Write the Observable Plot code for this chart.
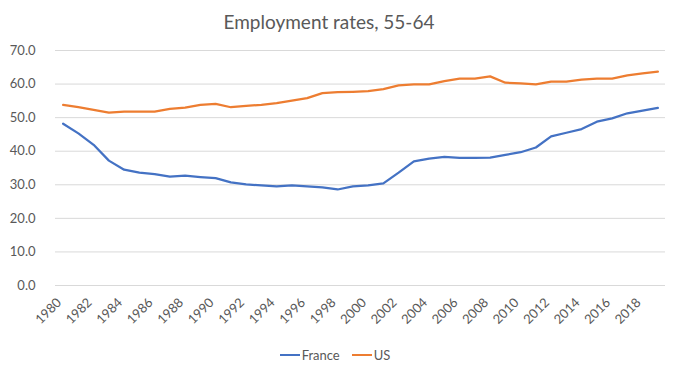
<!DOCTYPE html>
<html>
<head>
<meta charset="utf-8">
<script src="https://cdn.jsdelivr.net/npm/d3@7"></script>
<script src="https://cdn.jsdelivr.net/npm/@observablehq/plot@0.6"></script>
<style>
  html, body { margin: 0; padding: 0; background: #fff; }
  body { width: 676px; height: 371px; overflow: hidden; font-family: Lato, "Open Sans", sans-serif; color: #595959; }
  #title { height: 40px; line-height: 44px; text-align: center; font-size: 19px; color: #595959; padding-right: 18px; }
  #chart svg { display: block; }
  #legend { display: flex; justify-content: center; align-items: center; gap: 12px; font-size: 13px; margin-top: 12px; padding-right: 6px; }
  .item { display: flex; align-items: center; }
  .swatch { width: 20px; height: 0; border-top: 2px solid; margin-right: 2px; }
</style>
</head>
<body>
<div id="title">Employment rates, 55-64</div>
<div id="chart"></div>
<div id="legend"></div>
<script>
const years = d3.range(1980, 2020);
const france = [48.2, 45.3, 41.9, 37.2, 34.5, 33.6, 33.2, 32.4, 32.7, 32.3,
                32.0, 30.7, 30.1, 29.8, 29.5, 29.8, 29.5, 29.2, 28.6, 29.5,
                29.8, 30.4, 33.6, 37.0, 37.8, 38.3, 38.0, 38.0, 38.1, 38.9,
                39.7, 41.1, 44.4, 45.5, 46.6, 48.8, 49.8, 51.3, 52.1, 52.9];
const us = [53.8, 53.1, 52.3, 51.5, 51.8, 51.8, 51.8, 52.6, 53.0, 53.8,
            54.1, 53.1, 53.5, 53.8, 54.3, 55.1, 55.8, 57.3, 57.6, 57.7,
            57.9, 58.5, 59.6, 59.9, 59.9, 60.9, 61.6, 61.6, 62.3, 60.4,
            60.2, 59.9, 60.7, 60.7, 61.3, 61.6, 61.6, 62.6, 63.2, 63.7];
const seriesNames = ["France", "US"];
const seriesColors = ["#4472C4", "#ED7D31"];
const yTicks = [0, 10, 20, 30, 40, 50, 60, 70];
const xTicks = d3.range(1980, 2020, 2);

const rows = [];
years.forEach((yr, i) => {
  rows.push({year: yr, value: france[i], series: "France"});
  rows.push({year: yr, value: us[i], series: "US"});
});

const plot = Plot.plot({
  width: 676,
  height: 295,
  marginTop: 10,
  marginBottom: 50,
  marginLeft: 55,
  marginRight: 11,
  style: {fontFamily: "Lato, 'Open Sans', sans-serif", fontSize: "13px", color: "#595959", background: "#fff"},
  x: {type: "linear", domain: [1979.5, 2019.5], axis: null},
  y: {domain: [0, 70], ticks: yTicks, tickFormat: d3.format(".1f"), tickSize: 0, tickPadding: 20, label: null},
  color: {domain: seriesNames, range: seriesColors},
  marks: [
    Plot.ruleY(yTicks, {stroke: "#d9d9d9", strokeWidth: 1}),
    Plot.axisX({ticks: xTicks, tickFormat: d => String(d), tickRotate: -45, tickSize: 0, tickPadding: 10, dx: -4, dy: 5, label: null, fill: "#595959"}),
    Plot.lineY(rows, {x: "year", y: "value", z: "series", stroke: "series", strokeWidth: 2.25, strokeLinejoin: "round", strokeLinecap: "round"})
  ]
});
plot.querySelectorAll("[aria-label='y-axis tick label'] text").forEach(t => t.setAttribute("fill", "#595959"));
document.getElementById("chart").appendChild(plot);

const legend = document.getElementById("legend");
seriesNames.forEach((name, i) => {
  const item = document.createElement("div");
  item.className = "item";
  const sw = document.createElement("span");
  sw.className = "swatch";
  sw.style.borderColor = seriesColors[i];
  const label = document.createElement("span");
  label.textContent = name;
  item.appendChild(sw);
  item.appendChild(label);
  legend.appendChild(item);
});
</script>
</body>
</html>
